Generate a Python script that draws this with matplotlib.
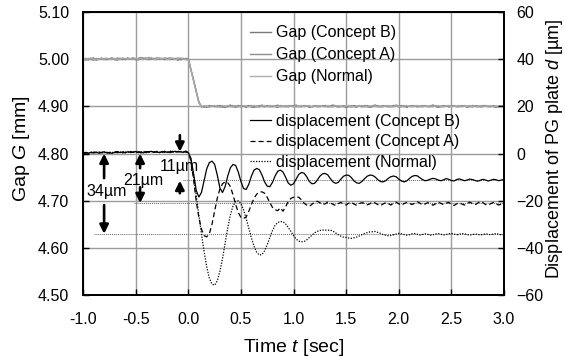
import matplotlib
matplotlib.use('Agg')
import matplotlib.pyplot as plt
import numpy as np

plt.rcParams['font.family'] = 'Liberation Sans'
plt.rcParams['mathtext.fontset'] = 'custom'
plt.rcParams['mathtext.rm'] = 'Liberation Sans'
plt.rcParams['mathtext.it'] = 'Liberation Sans:italic'

# time base [sec], 0.025 s step from -1.0 to 3.0
t = np.linspace(-1.0, 3.0, 161)

# gap G [mm]
gap_b = [
    5.000, 5.002, 4.999, 5.001, 5.003, 4.998, 5.001, 5.000, 5.002, 4.999,
    5.001, 5.003, 5.000, 4.998, 5.002, 5.001, 4.999, 5.003, 5.000, 5.002,
    4.999, 5.002, 5.004, 5.001, 5.003, 4.999, 5.002, 5.000, 5.003, 5.001,
    5.002, 4.999, 5.001, 5.003, 5.000, 5.002, 4.998, 5.001, 5.002, 5.000,
    5.000, 4.978, 4.956, 4.933, 4.910, 4.899, 4.901, 4.898, 4.902, 4.900,
    4.901, 4.899, 4.902, 4.900, 4.898, 4.901, 4.903, 4.899, 4.900, 4.902,
    4.899, 4.901, 4.900, 4.902, 4.899, 4.898, 4.901, 4.900, 4.903, 4.900,
    4.902, 4.899, 4.901, 4.900, 4.898, 4.902, 4.900, 4.901, 4.899, 4.902,
    4.900, 4.903, 4.899, 4.901, 4.900, 4.902, 4.898, 4.900, 4.902, 4.899,
    4.901, 4.900, 4.902, 4.899, 4.901, 4.903, 4.900, 4.899, 4.901, 4.900,
    4.898, 4.901, 4.899, 4.902, 4.900, 4.901, 4.899, 4.902, 4.900, 4.898,
    4.901, 4.903, 4.900, 4.899, 4.902, 4.900, 4.901, 4.899, 4.902, 4.901,
    4.899, 4.900, 4.902, 4.898, 4.901, 4.900, 4.902, 4.899, 4.901, 4.900,
    4.902, 4.899, 4.901, 4.903, 4.900, 4.898, 4.901, 4.900, 4.902, 4.899,
    4.900, 4.902, 4.899, 4.901, 4.900, 4.902, 4.898, 4.901, 4.899, 4.902,
    4.901, 4.899, 4.900, 4.902, 4.899, 4.901, 4.900, 4.898, 4.901, 4.900,
    4.901,
]
gap_a = [
    5.001, 4.999, 5.002, 5.000, 4.998, 5.002, 5.000, 5.003, 4.999, 5.001,
    5.000, 5.002, 4.999, 5.003, 5.001, 4.999, 5.002, 5.000, 5.001, 5.003,
    5.001, 4.998, 5.002, 5.003, 5.000, 5.004, 5.001, 5.002, 4.999, 5.003,
    5.000, 5.003, 5.002, 4.999, 5.002, 5.000, 5.003, 4.999, 5.000, 5.002,
    5.001, 4.979, 4.955, 4.932, 4.909, 4.900, 4.898, 4.901, 4.899, 4.902,
    4.899, 4.902, 4.900, 4.898, 4.901, 4.899, 4.901, 4.902, 4.898, 4.900,
    4.902, 4.900, 4.898, 4.901, 4.902, 4.900, 4.899, 4.902, 4.900, 4.899,
    4.900, 4.902, 4.899, 4.901, 4.903, 4.899, 4.901, 4.899, 4.902, 4.900,
    4.902, 4.899, 4.901, 4.899, 4.902, 4.900, 4.901, 4.899, 4.900, 4.902,
    4.899, 4.902, 4.900, 4.901, 4.899, 4.901, 4.902, 4.900, 4.899, 4.902,
    4.900, 4.899, 4.902, 4.900, 4.898, 4.902, 4.901, 4.899, 4.902, 4.900,
    4.899, 4.901, 4.902, 4.900, 4.899, 4.902, 4.899, 4.901, 4.900, 4.903,
    4.901, 4.902, 4.899, 4.901, 4.900, 4.902, 4.900, 4.901, 4.899, 4.902,
    4.900, 4.901, 4.899, 4.901, 4.902, 4.900, 4.899, 4.902, 4.900, 4.901,
    4.902, 4.900, 4.901, 4.899, 4.902, 4.900, 4.901, 4.899, 4.902, 4.900,
    4.899, 4.901, 4.902, 4.900, 4.901, 4.899, 4.902, 4.900, 4.899, 4.901,
    4.900,
]
gap_n = [
    4.999, 5.001, 5.000, 5.003, 5.000, 5.001, 4.999, 5.002, 5.000, 5.003,
    4.999, 5.001, 5.002, 5.000, 4.999, 5.003, 5.001, 5.000, 5.002, 4.999,
    5.002, 5.000, 5.003, 4.999, 5.002, 5.001, 5.004, 4.999, 5.001, 5.002,
    5.001, 5.002, 4.999, 5.001, 5.003, 4.999, 5.001, 5.003, 5.001, 4.999,
    4.999, 4.977, 4.954, 4.931, 4.908, 4.898, 4.902, 4.900, 4.898, 4.901,
    4.902, 4.900, 4.898, 4.902, 4.900, 4.902, 4.899, 4.900, 4.902, 4.899,
    4.900, 4.902, 4.901, 4.899, 4.900, 4.902, 4.900, 4.898, 4.901, 4.902,
    4.899, 4.901, 4.902, 4.899, 4.900, 4.901, 4.899, 4.902, 4.900, 4.901,
    4.899, 4.901, 4.900, 4.902, 4.899, 4.901, 4.902, 4.899, 4.901, 4.900,
    4.902, 4.900, 4.899, 4.902, 4.900, 4.899, 4.901, 4.902, 4.900, 4.899,
    4.901, 4.902, 4.900, 4.899, 4.901, 4.900, 4.902, 4.900, 4.899, 4.901,
    4.902, 4.900, 4.899, 4.901, 4.900, 4.901, 4.902, 4.900, 4.899, 4.901,
    4.900, 4.899, 4.901, 4.902, 4.900, 4.899, 4.901, 4.902, 4.900, 4.899,
    4.901, 4.900, 4.902, 4.899, 4.901, 4.902, 4.900, 4.899, 4.901, 4.902,
    4.899, 4.901, 4.900, 4.902, 4.899, 4.901, 4.900, 4.902, 4.899, 4.901,
    4.900, 4.902, 4.899, 4.901, 4.900, 4.902, 4.899, 4.901, 4.900, 4.902,
    4.899,
]

# displacement of PG plate d [um]
disp_b = [
    0.2, 0.5, 0.1, 0.6, 0.3, 0.7, 0.2, 0.4, 0.8, 0.3,
    0.5, 0.1, 0.6, 0.9, 0.4, 0.7, 0.3, 0.8, 0.5, 0.6,
    0.9, 0.4, 0.7, 0.3, 0.9, 0.6, 1.0, 0.5, 0.8, 0.4,
    0.7, 1.0, 0.5, 0.8, 0.6, 1.0, 0.7, 0.9, 0.5, 1.1,
    0.4, -2.0, -8.5, -15.5, -18.4, -16.5, -11.5, -6.5, -3.8, -3.2,
    -4.5, -9.0, -14.5, -16.5, -14.0, -9.5, -6.0, -4.6, -5.0, -7.8,
    -11.8, -14.8, -15.2, -13.0, -9.5, -7.0, -6.3, -6.8, -9.0, -12.0,
    -13.8, -14.0, -12.2, -9.5, -7.5, -7.0, -7.8, -10.0, -12.5, -13.4,
    -12.8, -10.8, -8.8, -8.0, -8.3, -9.8, -11.8, -12.8, -12.6, -11.3,
    -9.6, -8.6, -8.4, -9.0, -10.6, -12.0, -12.6, -12.2, -10.8, -9.6,
    -9.1, -9.2, -10.2, -11.6, -12.4, -12.6, -11.8, -10.6, -9.6, -9.1,
    -9.2, -9.9, -11.0, -11.8, -12.0, -11.5, -10.5, -9.8, -9.5, -9.8,
    -10.8, -11.6, -12.0, -11.6, -10.6, -9.7, -9.3, -9.4, -10.2, -11.0,
    -11.5, -11.3, -10.8, -10.5, -10.7, -11.2, -11.5, -11.1, -10.6, -10.9,
    -11.4, -11.6, -11.0, -10.7, -11.1, -11.5, -11.2, -10.8, -11.0, -11.4,
    -11.7, -11.3, -10.9, -11.2, -11.6, -11.3, -10.9, -11.1, -11.5, -11.2,
    -11.0,
]
disp_a = [
    0.4, 0.1, 0.6, 0.3, 0.5, 0.2, 0.7, 0.4, 0.3, 0.6,
    0.2, 0.7, 0.4, 0.5, 0.8, 0.3, 0.6, 0.4, 0.9, 0.5,
    0.6, 0.8, 0.3, 0.7, 0.5, 0.9, 0.4, 0.8, 0.6, 0.7,
    0.9, 0.5, 0.8, 0.4, 1.0, 0.6, 0.9, 0.7, 1.1, 0.6,
    0.5, -3.0, -11.0, -20.0, -27.0, -32.0, -34.8, -35.3, -34.0, -30.0,
    -24.5, -19.0, -15.0, -12.8, -12.0, -12.3, -14.0, -17.5, -21.5, -25.0,
    -27.0, -27.5, -26.8, -24.5, -21.5, -19.0, -17.2, -16.3, -16.2, -16.8,
    -18.5, -20.8, -22.8, -23.8, -24.2, -23.0, -24.4, -22.6, -20.2, -19.0,
    -18.5, -18.3, -18.5, -19.6, -21.0, -21.8, -22.4, -21.5, -20.5, -20.2,
    -20.8, -21.6, -21.3, -20.6, -20.9, -21.5, -22.0, -21.2, -20.7, -21.3,
    -21.8, -21.0, -20.6, -21.4, -21.9, -21.2, -20.8, -21.1, -21.7, -21.3,
    -20.5, -20.9, -21.6, -22.1, -21.4, -20.8, -21.2, -21.8, -21.0, -20.6,
    -21.3, -21.9, -21.2, -20.7, -21.0, -21.6, -21.1, -20.4, -21.0, -21.7,
    -21.4, -20.8, -21.2, -21.9, -21.3, -20.6, -21.1, -21.6, -21.0, -20.7,
    -21.5, -22.0, -21.3, -20.9, -21.4, -21.8, -21.1, -20.6, -21.2, -21.7,
    -21.0, -20.3, -20.8, -21.6, -21.9, -21.2, -20.7, -21.3, -21.8, -21.4,
    -21.2,
]
disp_n = [
    0.3, 0.6, 0.2, 0.5, 0.8, 0.4, 0.3, 0.7, 0.5, 0.2,
    0.6, 0.4, 0.8, 0.3, 0.6, 0.9, 0.5, 0.7, 0.4, 0.8,
    0.5, 0.9, 0.6, 1.0, 0.4, 0.7, 0.8, 0.5, 1.0, 0.7,
    0.6, 0.9, 0.7, 1.1, 0.8, 0.6, 1.0, 0.8, 0.7, 1.0,
    0.5, -2.5, -9.0, -17.5, -26.0, -34.0, -41.5, -48.0, -52.8, -55.3,
    -55.8, -54.0, -50.0, -44.5, -38.0, -31.5, -26.0, -22.2, -20.3, -20.0,
    -21.2, -23.8, -27.5, -31.6, -35.8, -39.3, -41.8, -43.0, -42.8, -41.2,
    -38.6, -35.6, -32.6, -30.4, -29.2, -28.8, -28.9, -29.8, -31.3, -33.0,
    -34.8, -36.2, -37.1, -37.4, -37.3, -36.6, -35.6, -34.6, -33.6, -33.0,
    -32.6, -32.4, -32.4, -32.5, -32.4, -32.9, -33.6, -34.4, -35.0, -35.4,
    -35.5, -35.8, -35.9, -35.7, -35.4, -34.9, -34.4, -33.9, -33.5, -33.2,
    -33.1, -33.0, -33.4, -33.8, -34.3, -34.6, -34.8, -34.7, -34.4, -34.1,
    -33.8, -34.0, -34.3, -34.6, -34.4, -34.0, -33.9, -34.2, -34.5, -34.3,
    -34.0, -34.2, -34.6, -34.4, -34.1, -33.9, -34.2, -34.5, -34.3, -34.0,
    -33.8, -34.1, -34.4, -34.2, -33.9, -34.0, -34.3, -34.6, -34.3, -34.1,
    -34.2, -34.5, -34.3, -34.0, -34.2, -34.4, -34.1, -33.9, -34.2, -34.4,
    -34.3,
]

# settled displacement levels [um] and where their guide lines start [sec]
levels = [-11, -21, -34]
level_start = [-0.05, -0.52, -0.90]
level_labels = ['11µm', '21µm', '34µm']

fig = plt.figure(figsize=(5.65, 3.56), dpi=100)
ax = fig.add_axes([0.147, 0.171, 0.745, 0.795])
ax2 = ax.twinx()

l_gb, = ax.plot(t, gap_b, color='#7a7a7a', lw=1.0)
l_ga, = ax.plot(t, gap_a, color='#8e8e8e', lw=1.0)
l_gn, = ax.plot(t, gap_n, color='#ababab', lw=1.0)

ax.set_xlim(-1.0, 3.0)
ax.set_ylim(4.5, 5.1)
ax.set_xticks(np.arange(-1.0, 3.01, 0.5))
ax.set_yticks(np.arange(4.5, 5.101, 0.1))
ax.set_xticklabels(['%.1f' % v for v in np.arange(-1.0, 3.01, 0.5)])
ax.set_yticklabels(['%.2f' % v for v in np.arange(4.5, 5.101, 0.1)])
ax.grid(True, color='#9c9c9c', lw=1.0)
ax.set_axisbelow(True)

# guide lines for the settled levels
for lv, x0 in zip(levels, level_start):
    ax2.plot([x0, 3.0], [lv, lv], color='#666666', lw=0.7, ls=(0, (1, 1)))

l_db, = ax2.plot(t, disp_b, color='black', lw=0.9)
l_da, = ax2.plot(t, disp_a, color='black', lw=0.9, ls=(0, (4, 2.5)))
l_dn, = ax2.plot(t, disp_n, color='black', lw=0.9, ls=(0, (1, 1.2)))

ax2.set_ylim(-60, 60)
ax2.set_yticks(np.arange(-60, 61, 20))

for a in (ax, ax2):
    a.tick_params(direction='in', length=4, width=1, labelsize=11.5, pad=10)
    for s in a.spines.values():
        s.set_linewidth(1.3)
ax.tick_params(axis='x', pad=12)
ax2.tick_params(axis='y', pad=9)

ax.set_xlabel('Time $t$ [sec]', fontsize=14, labelpad=7)
ax.set_ylabel('Gap $G$ [mm]', fontsize=14)
ax.yaxis.set_label_coords(-0.121, 0.517)
ax2.set_ylabel('Displacement of PG plate $d$ [µm]', fontsize=13)
ax2.yaxis.set_label_coords(1.094, 0.518)

# arrows marking each settled displacement
arw = dict(arrowstyle='-|>', color='black', lw=1.9, mutation_scale=13,
           shrinkA=0, shrinkB=0)
# 34um: outward arrows
ax2.annotate('', xy=(-0.80, 0), xytext=(-0.80, -10.4), arrowprops=arw)
ax2.annotate('', xy=(-0.80, -34), xytext=(-0.80, -21.8), arrowprops=arw)
ax2.text(-0.965, -15.9, level_labels[2], fontsize=11.5, ha='left', va='center')
# 21um
ax2.annotate('', xy=(-0.458, 0), xytext=(-0.458, -6.2), arrowprops=arw)
ax2.annotate('', xy=(-0.458, -21), xytext=(-0.458, -14.3), arrowprops=arw)
ax2.text(-0.43, -11.2, level_labels[1], fontsize=11.5, ha='center', va='center')
# 11um: inward arrows
ax2.annotate('', xy=(-0.08, 0.8), xytext=(-0.08, 7.8), arrowprops=arw)
ax2.annotate('', xy=(-0.08, -11.5), xytext=(-0.08, -16.8), arrowprops=arw)
ax2.text(-0.09, -5.3, level_labels[0], fontsize=11.5, ha='center', va='center')

leg_kw = dict(loc='upper left', frameon=False, fontsize=11.5,
              handlelength=1.31, handletextpad=0.31, labelspacing=0.45,
              borderpad=0, borderaxespad=0)
leg1 = ax2.legend([l_gb, l_ga, l_gn],
                  ['Gap (Concept B)', 'Gap (Concept A)', 'Gap (Normal)'],
                  bbox_to_anchor=(0.3967, 0.954), **leg_kw)
ax2.add_artist(leg1)
ax2.legend([l_db, l_da, l_dn],
           ['displacement (Concept B)', 'displacement (Concept A)',
            'displacement (Normal)'],
           bbox_to_anchor=(0.3967, 0.641), labelspacing=0.35,
           **{k: v for k, v in leg_kw.items() if k != 'labelspacing'})

fig.savefig('out.png', dpi=100)
